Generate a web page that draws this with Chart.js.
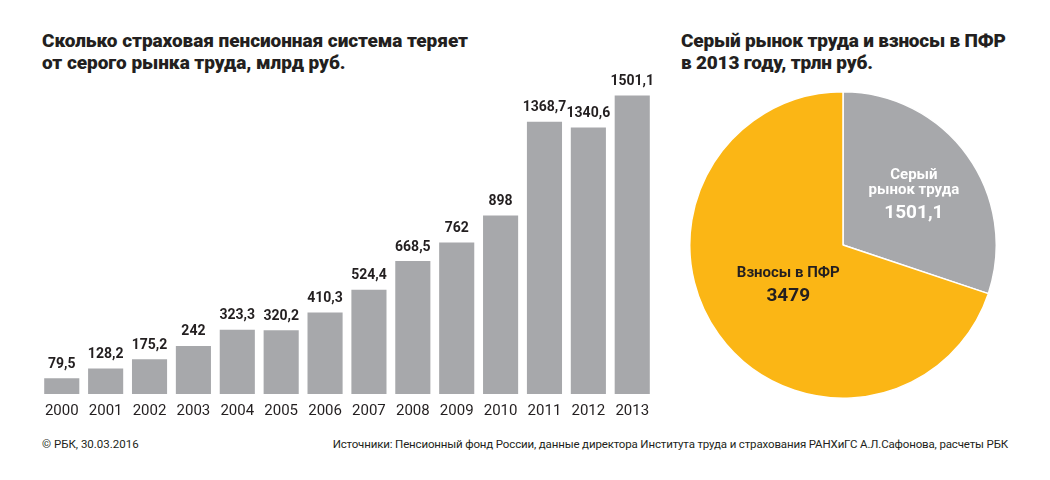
<!DOCTYPE html>
<html>
<head>
<meta charset="utf-8">
<script src="https://cdn.jsdelivr.net/npm/chart.js@4"></script>
<style>
  body { margin: 0; background: #fff; font-family: Roboto, "Noto Sans", sans-serif; color: #231f20; }
  #wrap { position: relative; width: 1050px; height: 480px; overflow: hidden; }
  .title { position: absolute; font-weight: 900; font-size: 19px; line-height: 22px; }
  .foot { position: absolute; font-size: 11.5px; top: 437px; }
  canvas { position: absolute; }
</style>
</head>
<body>
<div id="wrap">
  <div class="title" style="left:42px; top:30px; letter-spacing:-0.05px;">Сколько страховая пенсионная система теряет<br>от серого рынка труда, млрд руб.</div>
  <div class="title" style="left:681px; top:30px; letter-spacing:-0.2px;">Серый рынок труда и взносы в ПФР<br>в 2013 году, трлн руб.</div>
  <div id="barbox" style="position:absolute; left:37px; top:56px; width:620px; height:372px;"><canvas id="barchart"></canvas></div>
  <div id="piebox" style="position:absolute; left:689px; top:91px; width:308px; height:308px;"><canvas id="piechart"></canvas></div>
  <div class="foot" style="left:42px;">© РБК, 30.03.2016</div>
  <div class="foot" style="right:42px; letter-spacing:-0.15px;">Источники: Пенсионный фонд России, данные директора Института труда и страхования РАНХиГС А.Л.Сафонова, расчеты РБК</div>
</div>
<script>
const years = ['2000','2001','2002','2003','2004','2005','2006','2007','2008','2009','2010','2011','2012','2013'];
const losses = [79.5, 128.2, 175.2, 242, 323.3, 320.2, 410.3, 524.4, 668.5, 762, 898, 1368.7, 1340.6, 1501.1];

const pieNames = [['Серый', 'рынок труда'], ['Взносы в ПФР']];
const pieValues = [1501.1, 3479];

const GREY = '#a7a8ab';
const YELLOW = '#fbb615';

function fmt(v){
    return String(v).replace('.', ',');
}

const barLabels = {
    id: 'barLabels',
    afterDatasetsDraw(chart){
        const ctx = chart.ctx;
        const meta = chart.getDatasetMeta(0);
        ctx.save();
        ctx.font = 'bold 14px Roboto';
        ctx.fillStyle = '#231f20';
        ctx.textAlign = 'center';
        ctx.textBaseline = 'bottom';
        meta.data.forEach(function(bar, i){
            ctx.fillText(fmt(losses[i]), bar.x, bar.y - 7);
        });
        ctx.restore();
    }
};

// label distance from centre, as a share of the radius, per slice
const labelRadius = [0.57, 0.44];

const pieLabels = {
    id: 'pieLabels',
    afterDatasetsDraw(chart){
        const ctx = chart.ctx;
        const meta = chart.getDatasetMeta(0);
        ctx.save();
        ctx.textAlign = 'center';
        ctx.textBaseline = 'middle';
        meta.data.forEach(function(arc, i){
            const mid = (arc.startAngle + arc.endAngle) / 2;
            const r = arc.outerRadius * labelRadius[i];
            const x = arc.x + Math.cos(mid) * r;
            const y = arc.y + Math.sin(mid) * r;
            const names = pieNames[i];
            const h = names.length * 15 + 24;
            let cy = y - h / 2 + 8;
            ctx.fillStyle = i == 0 ? '#ffffff' : '#231f20';
            ctx.font = 'bold 15px Roboto';
            names.forEach(function(n){
                ctx.fillText(n, x, cy);
                cy += 15;
            });
            ctx.font = 'bold 19px Roboto';
            ctx.fillText(fmt(pieValues[i]), x, cy + 8);
        });
        ctx.restore();
    }
};

new Chart(document.getElementById('barchart'), {
    type: 'bar',
    data: {
        labels: years,
        datasets: [{
            data: losses,
            backgroundColor: GREY,
            barPercentage: 0.8,
            categoryPercentage: 1
        }]
    },
    options: {
        responsive: true,
        maintainAspectRatio: false,
        animation: false,
        layout: { padding: 0 },
        plugins: { legend: { display: false }, tooltip: { enabled: false } },
        scales: {
            x: {
                grid: { display: false, drawTicks: false },
                border: { display: false },
                ticks: { color: '#231f20', font: { family: 'Roboto', size: 15 }, padding: 8 }
            },
            y: { display: false, min: 0, max: 1700 }
        }
    },
    plugins: [barLabels]
});

new Chart(document.getElementById('piechart'), {
    type: 'pie',
    data: {
        labels: ['Серый рынок труда', 'Взносы в ПФР'],
        datasets: [{
            data: pieValues,
            backgroundColor: [GREY, YELLOW],
            borderColor: '#ffffff',
            borderWidth: 1.5
        }]
    },
    options: {
        responsive: true,
        maintainAspectRatio: false,
        animation: false,
        plugins: { legend: { display: false }, tooltip: { enabled: false } }
    },
    plugins: [pieLabels]
});
</script>
</body>
</html>
